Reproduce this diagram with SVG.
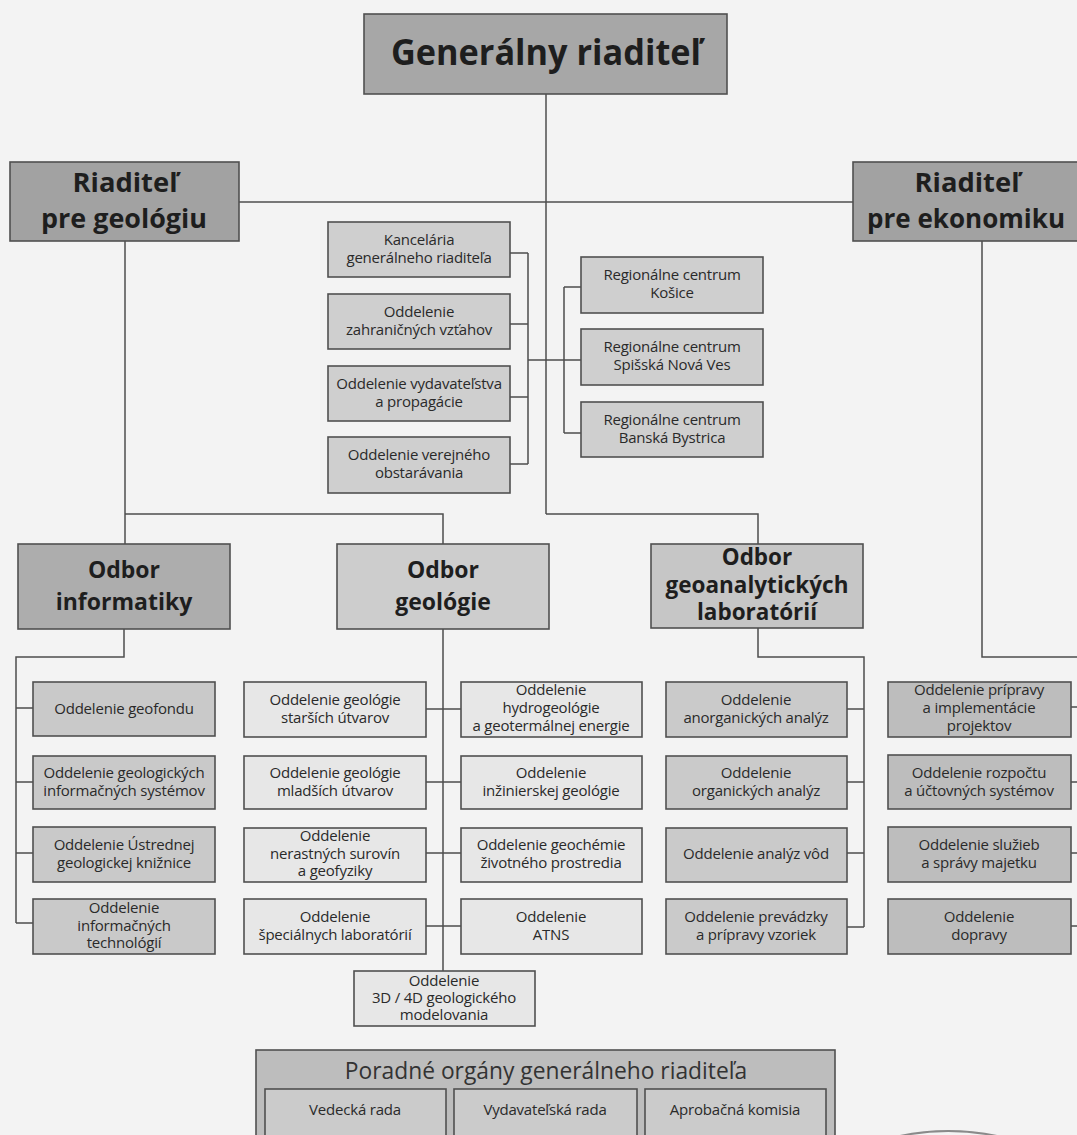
<svg xmlns="http://www.w3.org/2000/svg" width="1077" height="1135" viewBox="0 0 1077 1135">
<style>
.bg{fill:#f3f3f3}
rect.b{stroke:#505050;stroke-width:1.6}
.top{fill:#a7a7a7}
.dir{fill:#a2a2a2}
.k{fill:#cfcfcf}
.oi{fill:#adadad}
.og{fill:#cdcdcd}
.oa{fill:#c6c6c6}
.si{fill:#c9c9c9}
.sg{fill:#e7e7e7}
.sa{fill:#cacaca}
.se{fill:#bdbdbd}
.po{fill:#bdbdbd}
.pi{fill:#cbcbcb}
text{font-family:"Open Sans","DejaVu Sans",sans-serif;fill:#262626;text-anchor:middle}
.t{font-size:15px;letter-spacing:-0.2px;fill:#2a2a2a}
.h1{font-size:36px;font-weight:700;fill:#1e1e1e}
.h2{font-size:27px;font-weight:700;fill:#1e1e1e}
.h3{font-size:23px;font-weight:700;fill:#1e1e1e}
.h4{font-size:22.5px;font-weight:700;fill:#1e1e1e}
.pt{font-size:22.8px;fill:#333}
.c{fill:none;stroke:#4e4e4e;stroke-width:1.5}
</style>
<rect class="bg" x="0" y="0" width="1077" height="1135"/>

<g id="connectors" class="c">
<path d="M546 94V514"/>
<path d="M239 202H853"/>
<path d="M125 241V544"/>
<path d="M125 514H443V544"/>
<path d="M546 514H758V544"/>
<path d="M510 253H528M510 324H528M510 397H528M510 464H528M528 253V464M528 360H564"/>
<path d="M564 287V433M564 287H581M564 360H581M564 433H581"/>
<path d="M982 241V657H1077"/>
<path d="M124 629V657H16V923M16 708H33M16 782H33M16 853H33M16 923H33"/>
<path d="M443 629V971M426 709H461M426 782H461M426 853H461M426 926H461"/>
<path d="M758 628V657H864V927M847 709H864M847 782H864M847 853H864M847 927H864"/>
<path d="M1071 707H1077M1071 782H1077M1071 853H1077M1071 926H1077"/>
</g>

<g id="generalny">
<rect class="b top" x="364" y="14" width="363" height="80"/>
<text class="h1" x="546" y="65" textLength="310" lengthAdjust="spacingAndGlyphs">Generálny riaditeľ</text>
</g>
<g id="riaditel-geologia">
<rect class="b dir" x="10" y="162" width="229" height="79"/>
<text class="h2" x="125" y="192" textLength="105" lengthAdjust="spacingAndGlyphs">Riaditeľ</text>
<text class="h2" x="124" y="228" textLength="166" lengthAdjust="spacingAndGlyphs">pre geológiu</text>
</g>
<g id="riaditel-ekonomika">
<rect class="b dir" x="853" y="162" width="229" height="79"/>
<text class="h2" x="967" y="192" textLength="105" lengthAdjust="spacingAndGlyphs">Riaditeľ</text>
<text class="h2" x="966" y="228" textLength="198" lengthAdjust="spacingAndGlyphs">pre ekonomiku</text>
</g>

<g id="kancelaria"><rect class="b k" x="328" y="222" width="182" height="55"/>
<text class="t" x="419" y="245">Kancelária</text><text class="t" x="419" y="263">generálneho riaditeľa</text></g>
<g id="zahranicne"><rect class="b k" x="328" y="294" width="182" height="55"/>
<text class="t" x="419" y="317">Oddelenie</text><text class="t" x="419" y="335">zahraničných vzťahov</text></g>
<g id="vydavatelstvo"><rect class="b k" x="328" y="366" width="182" height="55"/>
<text class="t" x="419" y="389">Oddelenie vydavateľstva</text><text class="t" x="419" y="407">a propagácie</text></g>
<g id="obstaravanie"><rect class="b k" x="328" y="437" width="182" height="56"/>
<text class="t" x="419" y="460">Oddelenie verejného</text><text class="t" x="419" y="478">obstarávania</text></g>

<g id="rc-kosice"><rect class="b k" x="581" y="257" width="182" height="56"/>
<text class="t" x="672" y="280">Regionálne centrum</text><text class="t" x="672" y="298">Košice</text></g>
<g id="rc-snv"><rect class="b k" x="581" y="329" width="182" height="56"/>
<text class="t" x="672" y="352">Regionálne centrum</text><text class="t" x="672" y="370">Spišská Nová Ves</text></g>
<g id="rc-bb"><rect class="b k" x="581" y="402" width="182" height="55"/>
<text class="t" x="672" y="425">Regionálne centrum</text><text class="t" x="672" y="443">Banská Bystrica</text></g>

<g id="odbor-informatiky"><rect class="b oi" x="18" y="544" width="212" height="85"/>
<text class="h3" x="124" y="578">Odbor</text><text class="h3" x="124" y="610">informatiky</text></g>
<g id="odbor-geologie"><rect class="b og" x="337" y="544" width="212" height="85"/>
<text class="h3" x="443" y="578">Odbor</text><text class="h3" x="443" y="610">geológie</text></g>
<g id="odbor-geoanalytickych"><rect class="b oa" x="651" y="544" width="212" height="84"/>
<text class="h4" x="757" y="565">Odbor</text><text class="h4" x="757" y="593">geoanalytických</text><text class="h4" x="757" y="620">laboratórií</text></g>

<g id="geofond"><rect class="b si" x="33" y="682" width="182" height="54"/>
<text class="t" x="124" y="714">Oddelenie geofondu</text></g>
<g id="gis"><rect class="b si" x="33" y="756" width="182" height="53"/>
<text class="t" x="124" y="778">Oddelenie geologických</text><text class="t" x="124" y="796">informačných systémov</text></g>
<g id="kniznica"><rect class="b si" x="33" y="827" width="182" height="55"/>
<text class="t" x="124" y="850">Oddelenie Ústrednej</text><text class="t" x="124" y="868">geologickej knižnice</text></g>
<g id="it"><rect class="b si" x="33" y="899" width="182" height="55"/>
<text class="t" x="124" y="913">Oddelenie</text><text class="t" x="124" y="931">informačných</text><text class="t" x="124" y="948">technológií</text></g>

<g id="starsie"><rect class="b sg" x="244" y="682" width="182" height="55"/>
<text class="t" x="335" y="705">Oddelenie geológie</text><text class="t" x="335" y="723">starších útvarov</text></g>
<g id="mladsie"><rect class="b sg" x="244" y="756" width="182" height="53"/>
<text class="t" x="335" y="778">Oddelenie geológie</text><text class="t" x="335" y="796">mladších útvarov</text></g>
<g id="nerastne"><rect class="b sg" x="244" y="828" width="182" height="54"/>
<text class="t" x="335" y="841">Oddelenie</text><text class="t" x="335" y="859">nerastných surovín</text><text class="t" x="335" y="876">a geofyziky</text></g>
<g id="specialne"><rect class="b sg" x="244" y="899" width="182" height="55"/>
<text class="t" x="335" y="922">Oddelenie</text><text class="t" x="335" y="940">špeciálnych laboratórií</text></g>

<g id="hydrogeologia"><rect class="b sg" x="461" y="682" width="181" height="55"/>
<text class="t" x="551" y="695">Oddelenie</text><text class="t" x="551" y="713">hydrogeológie</text><text class="t" x="551" y="731">a geotermálnej energie</text></g>
<g id="inzinierska"><rect class="b sg" x="461" y="756" width="181" height="53"/>
<text class="t" x="551" y="778">Oddelenie</text><text class="t" x="551" y="796">inžinierskej geológie</text></g>
<g id="geochemia"><rect class="b sg" x="461" y="828" width="181" height="54"/>
<text class="t" x="551" y="850">Oddelenie geochémie</text><text class="t" x="551" y="868">životného prostredia</text></g>
<g id="atns"><rect class="b sg" x="461" y="899" width="181" height="55"/>
<text class="t" x="551" y="922">Oddelenie</text><text class="t" x="551" y="940">ATNS</text></g>

<g id="model3d"><rect class="b sg" x="354" y="971" width="181" height="55"/>
<text class="t" x="444" y="986">Oddelenie</text><text class="t" x="444" y="1003">3D / 4D geologického</text><text class="t" x="444" y="1020">modelovania</text></g>

<g id="anorganicke"><rect class="b sa" x="666" y="682" width="181" height="55"/>
<text class="t" x="756" y="705">Oddelenie</text><text class="t" x="756" y="723">anorganických analýz</text></g>
<g id="organicke"><rect class="b sa" x="666" y="756" width="181" height="53"/>
<text class="t" x="756" y="778">Oddelenie</text><text class="t" x="756" y="796">organických analýz</text></g>
<g id="vody"><rect class="b sa" x="666" y="828" width="181" height="54"/>
<text class="t" x="756" y="859">Oddelenie analýz vôd</text></g>
<g id="prevadzka"><rect class="b sa" x="666" y="899" width="181" height="55"/>
<text class="t" x="756" y="922">Oddelenie prevádzky</text><text class="t" x="756" y="940">a prípravy vzoriek</text></g>

<g id="projekty"><rect class="b se" x="888" y="682" width="183" height="55"/>
<text class="t" x="979" y="695">Oddelenie prípravy</text><text class="t" x="979" y="713">a implementácie</text><text class="t" x="979" y="731">projektov</text></g>
<g id="rozpocet"><rect class="b se" x="888" y="755" width="183" height="54"/>
<text class="t" x="979" y="778">Oddelenie rozpočtu</text><text class="t" x="979" y="796">a účtovných systémov</text></g>
<g id="sluzby"><rect class="b se" x="888" y="827" width="183" height="55"/>
<text class="t" x="979" y="850">Oddelenie služieb</text><text class="t" x="979" y="868">a správy majetku</text></g>
<g id="doprava"><rect class="b se" x="888" y="899" width="183" height="55"/>
<text class="t" x="979" y="922">Oddelenie</text><text class="t" x="979" y="940">dopravy</text></g>

<g id="poradne-organy">
<rect class="b po" x="256" y="1050" width="579" height="100"/>
<text class="pt" x="546" y="1079">Poradné orgány generálneho riaditeľa</text>
<rect class="b pi" x="265" y="1089" width="181" height="50"/>
<text class="t" x="355" y="1115">Vedecká rada</text>
<rect class="b pi" x="454" y="1089" width="183" height="50"/>
<text class="t" x="545" y="1115">Vydavateľská rada</text>
<rect class="b pi" x="645" y="1089" width="181" height="50"/>
<text class="t" x="735" y="1115">Aprobačná komisia</text>
</g>
<path d="M900 1136Q948 1126 997 1136" fill="none" stroke="#8a8a8a" stroke-width="2"/>
</svg>
